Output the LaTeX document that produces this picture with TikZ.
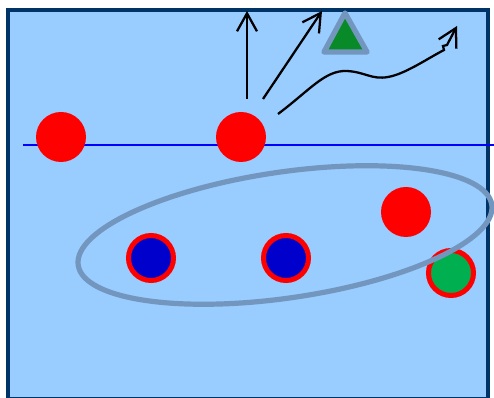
\documentclass[tikz,border=0pt]{standalone}
\usetikzlibrary{arrows.meta}
\definecolor{bgblue}{HTML}{99CCFF}
\definecolor{navy}{HTML}{003366}
\definecolor{steel}{HTML}{7396BE}
\definecolor{trigreen}{HTML}{088A28}
\definecolor{ballgreen}{HTML}{00B050}
\definecolor{dotblue}{HTML}{0000CC}
\tikzset{
  redball/.style={circle, fill=red, inner sep=0pt, minimum size=37.5pt},
  ringball/.style={circle, draw=red, line width=3.75pt, inner sep=0pt, minimum size=33.75pt},
  ray/.style={draw=black, line width=1.7pt, -{Straight Barb[length=13.5pt,width=15pt,line width=1.7pt]}},
}
\begin{document}
\begin{tikzpicture}[x=0.75pt,y=-0.75pt]
\useasboundingbox (0,0) rectangle (494,398);
\begin{scope}
\clip (0,0) rectangle (494,398);
\draw[navy, fill=bgblue, line width=3.3pt] (8,10) rectangle (488,399);
\end{scope}
% horizontal line
\coordinate (lineL) at (23,145);
\coordinate (lineR) at (494,145);
\draw[blue, line width=1.8pt] (lineL) -- (lineR);
% red balls
\node[redball] (r1) at (61,137) {};
\node[redball] (r2) at (241,137) {};
\node[redball] (r3) at (406,212) {};
% ringed balls
\node[ringball, fill=dotblue] (b1) at (151,258) {};
\node[ringball, fill=dotblue] (b2) at (286,258) {};
\node[ringball, fill=ballgreen] (g1) at (451,273) {};
% ellipse
\draw[steel, line width=3.9pt, rotate around={8.3:(285,235)}] (285,235) ellipse [x radius=209, y radius=63];
% triangle
\draw[steel, fill=trigreen, line width=4pt, line join=round] (345,13) -- (367,52) -- (324,52) -- cycle;
% rays
\coordinate (s1) at (247,99);
\coordinate (e1) at (247,11);
\coordinate (s2) at (263,99);
\coordinate (e2) at (322,11);
\coordinate (s3) at (278,114);
\coordinate (e3) at (457,26);
\draw[ray] (s1) -- (e1);
\draw[ray] (s2) -- (e2);
\draw[ray] (s3) .. controls (310,90) and (325,70) .. (347,71)
  .. controls (365,72) and (372,80) .. (388,77)
  .. controls (405,74) and (425,60) .. (444,50)
  -- (443,46) -- (447,45) -- (e3);
\end{tikzpicture}
\end{document}
